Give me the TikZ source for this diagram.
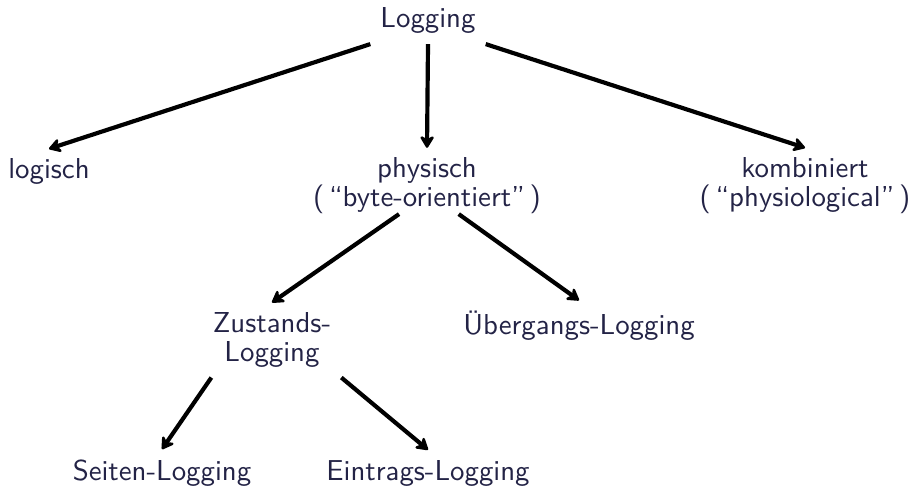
\documentclass[tikz,border=0pt]{standalone}
\usepackage{tikz}
\usetikzlibrary{arrows.meta}
\definecolor{txtblue}{RGB}{35,35,70}

\begin{document}
\begin{tikzpicture}[x=0.347pt, y=-0.347pt,
  every node/.style={text=txtblue, font=\fontsize{10pt}{10pt}\selectfont\sffamily, align=center},
  arr/.style={-{Stealth[length=5pt, width=6pt, inset=1.6pt, round]}, line width=1.45pt}]

\useasboundingbox (0,0) rectangle (909,488);

% top level
\node (log) [anchor=base] at (428, 28) {Logging};

\node (logi) [anchor=base] at (49, 179) {logisch};
\node (phys) at (427, 186) {physisch\\(\,``byte-orientiert''\,)};
\node (komb) at (805, 186) {kombiniert\\(\,``physiological''\,)};

\draw [arr] (log.south west) -- (logi.north);
\draw [arr] (log.south) -- (phys.north);
\draw [arr] (log.south east) -- (komb.north);

% physisch
\node (zust) at (272, 340) {Zustands-\\Logging};
\node (ueb) [anchor=base] at (579, 334) {Übergangs-Logging};

\draw [arr] ([xshift=-9.7pt, yshift=3.5pt]phys.south) -- (zust.north);
\draw [arr] ([xshift=11pt, yshift=3.5pt]phys.south) -- (ueb.north);

% Zustands-Logging
\node (seit) [anchor=base] at (162, 480) {Seiten-Logging};
\node (eintr) [anchor=base] at (428, 480) {Eintrags-Logging};

\draw [arr] ([xshift=3pt]zust.south west) -- (seit.north);
\draw [arr] (zust.south east) -- (eintr.north);

\end{tikzpicture}
\end{document}
